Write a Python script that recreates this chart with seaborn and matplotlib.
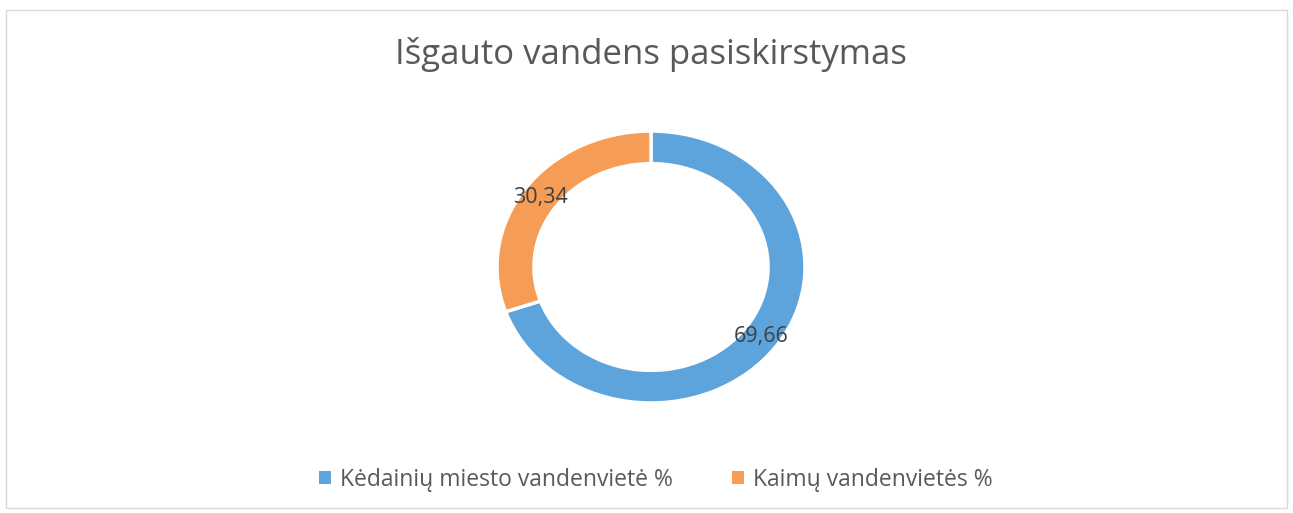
import matplotlib
matplotlib.use("Agg")
import matplotlib.pyplot as plt
import seaborn as sns
from matplotlib.patches import Patch, Rectangle

# --- Data ---
categories = ["Kėdainių miesto vandenvietė %", "Kaimų vandenvietės %"]
values = [69.66, 30.34]
title = "Išgauto vandens pasiskirstymas"

sns.set_theme(style="white")
plt.rcParams["font.family"] = ["Open Sans", "DejaVu Sans"]

colors = ["#5DA3DC", "#F59D56"]
text_color = "#595959"

W, H = 1293, 513
fig = plt.figure(figsize=(W / 100, H / 100), dpi=100)
fig.patch.set_facecolor("white")

# light frame around chart
fig.patches.append(Rectangle((6 / W, 5 / H), (W - 12) / W, (H - 15) / H,
                             transform=fig.transFigure, fill=False,
                             edgecolor="#d9d9d9", linewidth=1))

# donut axes (slightly elliptical like the scanned source)
cx, cy, rx, ry = 651, 267, 154, 136
ax = fig.add_axes([(cx - rx) / W, (H - cy - ry) / H, 2 * rx / W, 2 * ry / H])
wedges, texts, autotexts = ax.pie(
    values, colors=colors, startangle=90, counterclock=False,
    wedgeprops=dict(width=0.24, edgecolor="white", linewidth=2.5),
    autopct=lambda p: f"{p:.2f}".replace(".", ","), pctdistance=0.88,
    textprops=dict(color="#404040", fontsize=15.5))
ax.set_aspect("auto")
ax.set_xlim(-1, 1)
ax.set_ylim(-1, 1)

fig.text(cx / W, 1 - 55 / H, title, ha="center", va="center",
         fontsize=25, color=text_color)

handles = [Patch(facecolor=c, edgecolor="none") for c in colors]
fig.legend(handles, categories, loc="center", bbox_to_anchor=(656 / W, 1 - 480 / H),
           ncol=2, frameon=False, fontsize=16.5, labelcolor=text_color,
           handlelength=0.5, handleheight=0.5, handletextpad=0.4, columnspacing=2.6)

fig.savefig("out.png", dpi=100, facecolor="white")
